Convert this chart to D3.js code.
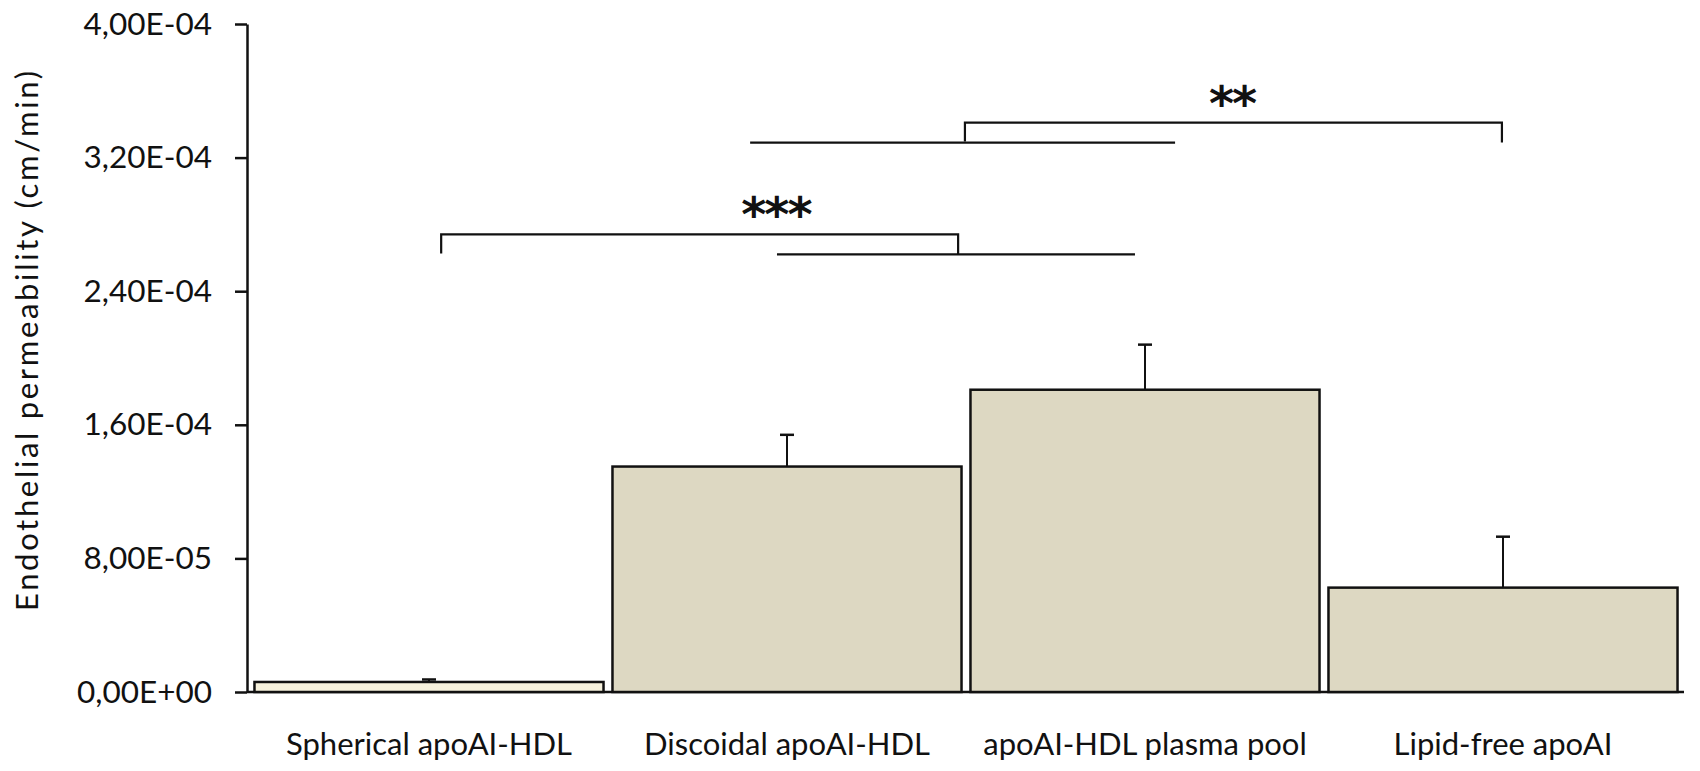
<!DOCTYPE html>
<html>
<head>
<meta charset="utf-8">
<script src="https://cdn.jsdelivr.net/npm/d3@7"></script>
<style>
  body { margin: 0; background: #fff; }
  text { font-family: Lato, "Open Sans", sans-serif; fill: #111; }
</style>
</head>
<body>
<div id="chart"></div>
<script>
// data
var categories = ["Spherical apoAI-HDL", "Discoidal apoAI-HDL", "apoAI-HDL plasma pool", "Lipid-free apoAI"];
var means = [6.0e-6, 1.35e-4, 1.81e-4, 6.25e-5];
var errors = [1.5e-6, 1.9e-5, 2.7e-5, 3.05e-5];
var yTicks = [0, 8e-5, 1.6e-4, 2.4e-4, 3.2e-4, 4e-4];

// significance brackets, x in band units, y in data units
var bracketLabels = ["***", "**"];
var bracketX = [[0.534, 1.978], [1.997, 3.497]];
var bracketTop = [2.74e-4, 3.41e-4];
var groupLineX = [[1.472, 2.472], [1.397, 2.584]];
var groupLineY = [2.62e-4, 3.29e-4];
var labelX = [1.469, 2.743];

var svgWidth = 1700, svgHeight = 771;
var plotLeft = 250, plotRight = 1682, plotTop = 24, plotBottom = 692;

var svg = d3.select("#chart").append("svg")
  .attr("width", svgWidth)
  .attr("height", svgHeight);

var xScale = d3.scaleBand()
  .domain(categories)
  .range([plotLeft, plotRight])
  .paddingInner(0.025)
  .paddingOuter(0.0125);

var bandPos = d3.scaleLinear().domain([0, 4]).range([plotLeft, plotRight]);

var yScale = d3.scaleLinear()
  .domain([0, 4e-4])
  .range([plotBottom, plotTop]);

function fmt(v) {
  var s = v.toExponential(2).split("e");
  var exp = +s[1];
  var e = (exp < 0 ? "-" : "+") + String(Math.abs(exp)).padStart(2, "0");
  return s[0].replace(".", ",") + "E" + e;
}

// y axis
var leftAxis = d3.axisLeft(yScale)
  .tickValues(yTicks)
  .tickFormat(fmt)
  .tickSize(12)
  .tickPadding(23)
  .tickSizeOuter(0);

var yAxisG = svg.append("g")
  .attr("transform", "translate(247,0)")
  .call(leftAxis);
yAxisG.select(".domain").attr("stroke", "#111").attr("stroke-width", 2.5);
yAxisG.selectAll(".tick line").attr("stroke", "#111").attr("stroke-width", 2.5);
yAxisG.selectAll(".tick text")
  .style("font-size", "31.5px")
  .style("font-family", "Lato, sans-serif")
  .attr("fill", "#111");

// baseline
svg.append("line")
  .attr("x1", 247).attr("x2", 1684)
  .attr("y1", yScale(0)).attr("y2", yScale(0))
  .attr("stroke", "#111").attr("stroke-width", 2.5);

// bars
svg.selectAll(".bar")
  .data(categories)
  .enter()
  .append("rect")
  .attr("class", "bar")
  .attr("x", d => xScale(d))
  .attr("width", xScale.bandwidth())
  .attr("y", (d, i) => yScale(means[i]))
  .attr("height", (d, i) => yScale(0) - yScale(means[i]))
  .attr("fill", (d, i) => i === 0 ? "#f6f1dc" : "#ddd8c2")
  .attr("stroke", "#111")
  .attr("stroke-width", 2.5);

// error bars (upper only)
var errG = svg.append("g").attr("stroke", "#111").attr("stroke-width", 2);
categories.forEach(function(c, i) {
  var cx = xScale(c) + xScale.bandwidth() / 2;
  errG.append("line")
    .attr("x1", cx).attr("x2", cx)
    .attr("y1", yScale(means[i])).attr("y2", yScale(means[i] + errors[i]));
  errG.append("line")
    .attr("x1", cx - 7).attr("x2", cx + 7)
    .attr("y1", yScale(means[i] + errors[i])).attr("y2", yScale(means[i] + errors[i]))
    .attr("stroke-width", 2.5);
});

// brackets
var brG = svg.append("g").attr("fill", "none").attr("stroke", "#111").attr("stroke-width", 2.2);
bracketLabels.forEach(function(lab, i) {
  var x1 = bandPos(bracketX[i][0]), x2 = bandPos(bracketX[i][1]);
  var yT = yScale(bracketTop[i]), yL = yScale(groupLineY[i]);
  brG.append("path")
    .attr("d", "M" + x1 + "," + (yL - 1) + "V" + yT + "H" + x2 + "V" + yL);
  brG.append("line")
    .attr("x1", bandPos(groupLineX[i][0])).attr("x2", bandPos(groupLineX[i][1]))
    .attr("y1", yL).attr("y2", yL);
  svg.append("text")
    .attr("x", bandPos(labelX[i]))
    .attr("y", yT - 3)
    .attr("text-anchor", "middle")
    .style("font-size", "48px")
    .style("font-weight", "bold")
    .style("font-family", "'DejaVu Sans', sans-serif")
    .style("letter-spacing", "-2px")
    .text(lab);
});

// x labels
svg.selectAll(".xlab")
  .data(categories)
  .enter()
  .append("text")
  .attr("class", "xlab")
  .attr("x", d => xScale(d) + xScale.bandwidth() / 2)
  .attr("y", 755)
  .attr("text-anchor", "middle")
  .style("font-size", "31px")
  .text(d => d);

// y label
svg.append("text")
  .attr("transform", "rotate(-90)")
  .attr("x", -341)
  .attr("y", 38)
  .attr("text-anchor", "middle")
  .attr("textLength", 540)
  .attr("lengthAdjust", "spacing")
  .style("font-size", "31px")
  .text("Endothelial permeability (cm/min)");
</script>
</body>
</html>
